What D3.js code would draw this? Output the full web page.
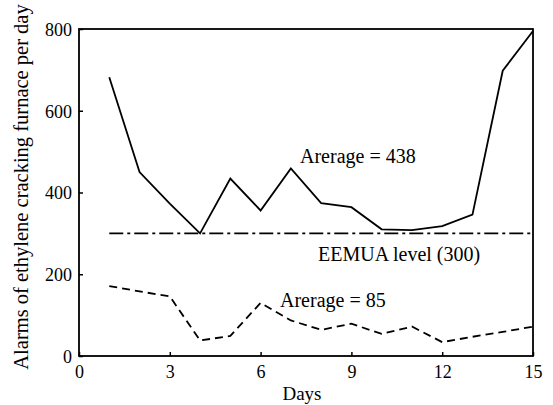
<!DOCTYPE html>
<html>
<head>
<meta charset="utf-8">
<script src="https://cdn.jsdelivr.net/npm/d3@7"></script>
<style>
  body { margin: 0; background: #fff; }
  svg text { font-family: "Liberation Serif", "Times New Roman", "DejaVu Serif", serif; fill: #000; }
</style>
</head>
<body>
<div id="chart"></div>
<script>
// ---- data ----
var days = [1, 2, 3, 4, 5, 6, 7, 8, 9, 10, 11, 12, 13, 14, 15];
var alarmsBefore = [682, 450, 373, 300, 434, 356, 459, 374, 364, 310, 308, 318, 346, 698, 795];
var alarmsAfter = [171, 158, 146, 38, 49, 130, 87, 64, 79, 54, 72, 34, 47, 59, 72];
var eemuaLevel = 300;
var xTicks = [0, 3, 6, 9, 12, 15];
var yTicks = [0, 200, 400, 600, 800];

var width = 553, height = 405;
var margin = {left: 79, right: 20, top: 29, bottom: 49};
var serif = '"Liberation Serif", "Times New Roman", serif';

var svg = d3.select('#chart').append('svg')
	.attr('width', width)
	.attr('height', height)
	.attr('font-family', serif);

var x = d3.scaleLinear().domain([0, 15]).range([margin.left, width - margin.right]);
var y = d3.scaleLinear().domain([0, 800]).range([height - margin.bottom, margin.top]);

// frame
svg.append('rect')
	.attr('x', x(0)).attr('y', y(800))
	.attr('width', x(15) - x(0)).attr('height', y(0) - y(800))
	.attr('fill', 'none').attr('stroke', '#000').attr('stroke-width', 1.8);

// axes, ticks pointing inward
var xAxis = svg.append('g')
	.attr('transform', 'translate(0,' + y(0) + ')')
	.call(d3.axisBottom(x).tickValues(xTicks).tickSizeInner(-4).tickSizeOuter(0).tickPadding(9));
var yAxis = svg.append('g')
	.attr('transform', 'translate(' + x(0) + ',0)')
	.call(d3.axisLeft(y).tickValues(yTicks).tickSizeInner(-4).tickSizeOuter(0).tickPadding(7));

[xAxis, yAxis].forEach(function (a) {
	a.attr('font-family', serif).attr('font-size', 18);
	a.select('.domain').remove();
	a.selectAll('line').attr('stroke', '#000').attr('stroke-width', 1.5);
	a.selectAll('text').attr('fill', '#000');
});
yAxis.selectAll('text').attr('dy', '0.35em');

var line = d3.line()
	.x(function (d, i) { return x(days[i]); })
	.y(function (d) { return y(d); });

svg.append('path')
	.datum(alarmsBefore)
	.attr('d', line)
	.attr('fill', 'none').attr('stroke', '#000').attr('stroke-width', 1.8);

svg.append('path')
	.datum(alarmsAfter)
	.attr('d', line)
	.attr('fill', 'none').attr('stroke', '#000').attr('stroke-width', 1.8)
	.attr('stroke-dasharray', '8,5');

svg.append('line')
	.attr('x1', x(days[0])).attr('x2', x(days[days.length - 1]))
	.attr('y1', y(eemuaLevel)).attr('y2', y(eemuaLevel))
	.attr('stroke', '#000').attr('stroke-width', 1.8)
	.attr('stroke-dasharray', '14,4,3,4');

// annotations
svg.append('text').attr('x', 300).attr('y', 163)
	.attr('font-size', 20).text('Arerage = 438');
svg.append('text').attr('x', 318).attr('y', 261)
	.attr('font-size', 20).text('EEMUA level (300)');
svg.append('text').attr('x', 280).attr('y', 307)
	.attr('font-size', 20).text('Arerage = 85');

// axis titles
svg.append('text')
	.attr('x', 302).attr('y', 400)
	.attr('text-anchor', 'middle')
	.attr('font-size', 19).text('Days');
svg.append('text')
	.attr('transform', 'translate(28,187) rotate(-90)')
	.attr('text-anchor', 'middle')
	.attr('font-size', 20.5).text('Alarms of ethylene cracking furnace per day');
</script>
</body>
</html>
